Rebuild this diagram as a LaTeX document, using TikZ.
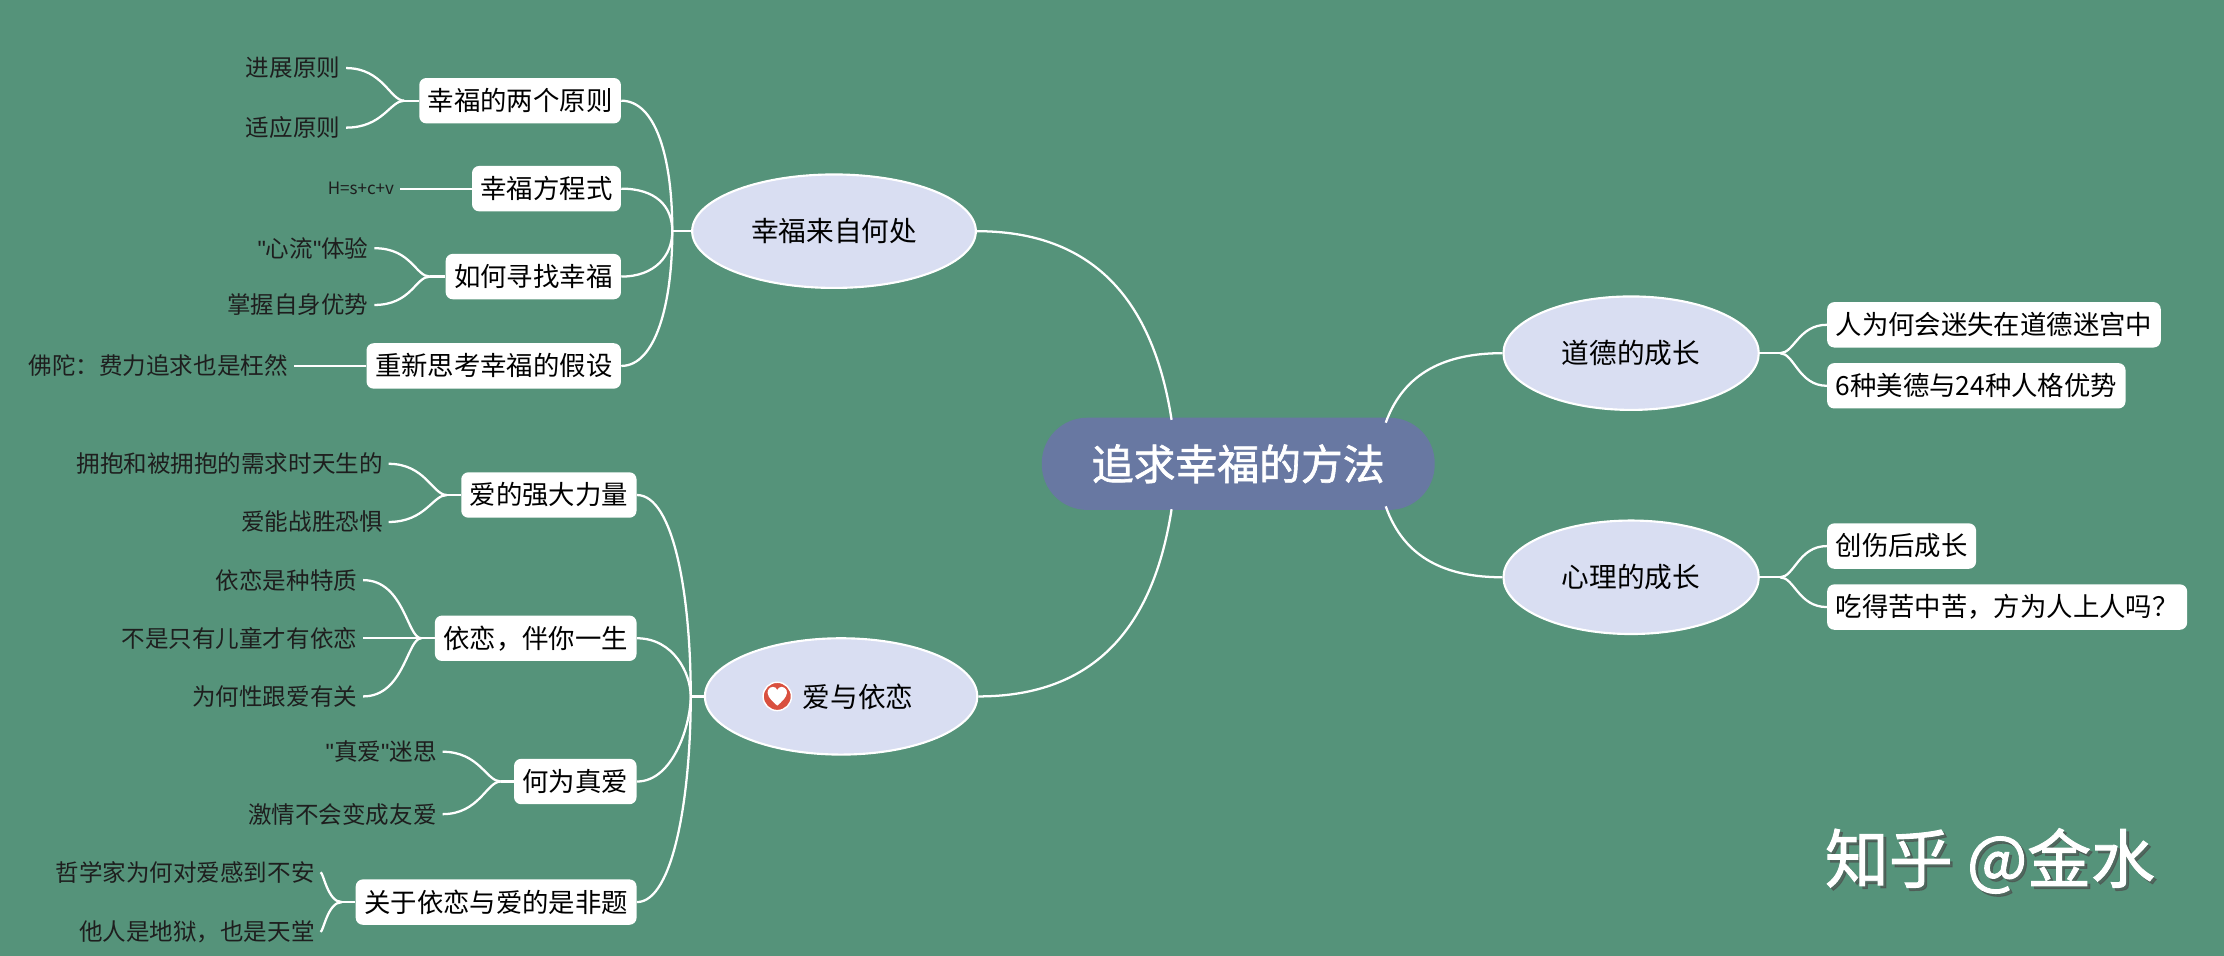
\documentclass[tikz,border=0pt]{standalone}
\usepackage{fontspec}
\setmainfont{Noto Sans CJK SC}
\newfontfamily\cjkb[FakeBold=1.5]{Noto Sans CJK SC}
\newfontfamily\qfont{Liberation Sans}
\newcommand{\sq}{{\qfont\symbol{34}}}
\usetikzlibrary{shapes.geometric}
\definecolor{bg}{HTML}{55937A}
\definecolor{cen}{HTML}{6878A2}
\definecolor{ell}{HTML}{D9DEF2}
\definecolor{leafc}{HTML}{1E1E1E}
\definecolor{heart}{HTML}{D9503F}
\tikzset{
 conn/.style={draw=white,line width=1.6pt},
 topic/.style={ellipse,fill=ell,draw=white,line width=1.5pt,minimum width=200pt,minimum height=80pt,inner sep=0pt,font=\fontsize{19.5}{22}\selectfont,text=black},
 sub/.style={fill=white,rounded corners=5pt,minimum height=32pt,inner xsep=6pt,inner ysep=0pt,anchor=east,font=\fontsize{18.6}{21}\selectfont,text=black},
 subl/.style={sub,anchor=west},
 leaf/.style={anchor=east,inner sep=0pt,font=\fontsize{16.6}{19}\selectfont,text=leafc},
}
\begin{document}
\begin{tikzpicture}[x=1pt,y=-1pt]
\fill[bg] (0,0) rectangle (1568,674);
\useasboundingbox (0,0) rectangle (1568,674);

\node[fill=cen,rounded corners=32pt,minimum width=277pt,minimum height=65pt,text=white,font=\cjkb\fontsize{29.5}{33}\selectfont] (c) at (873,327) {追求幸福的方法};

\node[topic] (t1) at (588,163) {幸福来自何处};
\node[topic,minimum width=192pt,minimum height=82pt] (t2) at (593,491) {\hspace{24pt}爱与依恋};
\node[topic,minimum width=180pt] (t3) at (1150,249) {道德的成长};
\node[topic,minimum width=180pt] (t4) at (1150,407) {心理的成长};

% heart icon
\fill[heart,draw=white,line width=1pt] (548,491) circle (10);
\fill[white] (548,497.5) .. controls (541.5,492) and (540.5,489) .. (541.5,486.5) .. controls (543,483.5) and (547,483.5) .. (548,486.5) .. controls (549,483.5) and (553,483.5) .. (554.5,486.5) .. controls (555.5,489) and (554.5,492) .. (548,497.5) -- cycle;

% center connections
\draw[conn] (826,296) .. controls (812,205) and (765,163) .. (t1.east);
\draw[conn] (826,359) .. controls (812,450) and (765,491) .. (t2.east);
\draw[conn] (977,298) .. controls (990,262) and (1020,249) .. (t3.west);
\draw[conn] (977,357) .. controls (990,394) and (1020,407) .. (t4.west);

% left-top subtopics
\coordinate (h1) at (474,163);
\draw[conn] (t1.west) -- (h1);
\node[sub] (a1) at (438,71) {幸福的两个原则};
\node[sub] (a2) at (438,133) {幸福方程式};
\node[sub] (a3) at (438,195) {如何寻找幸福};
\node[sub] (a4) at (438,258) {重新思考幸福的假设};
\draw[conn] (a1.east) .. controls (462,71) and (474,110) .. (h1);
\draw[conn] (a2.east) .. controls (462,133) and (474,145) .. (h1);
\draw[conn] (a3.east) .. controls (462,195) and (474,180) .. (h1);
\draw[conn] (a4.east) .. controls (462,258) and (474,215) .. (h1);

\node[leaf] (l1) at (240,48) {进展原则};
\node[leaf] (l2) at (240,90) {适应原则};
\node[leaf,font=\fontsize{12}{13}\selectfont] (l3) at (278,133) {H=s+c+v};
\node[leaf] (l4) at (260,175) {\sq 心流\sq 体验};
\node[leaf] (l5) at (260,215) {掌握自身优势};
\node[leaf] (l6) at (203,258) {佛陀：费力追求也是枉然};
\coordinate (g1) at (285,71);
\draw[conn] (a1.west) -- (g1);
\draw[conn] (g1) .. controls (275,71) and (270,48) .. ([xshift=4pt]l1.east);
\draw[conn] (g1) .. controls (275,71) and (270,90) .. ([xshift=4pt]l2.east);
\draw[conn] (a2.west) -- ([xshift=4pt]l3.east);
\coordinate (g3) at (303,195);
\draw[conn] (a3.west) -- (g3);
\draw[conn] (g3) .. controls (293,195) and (290,175) .. ([xshift=4pt]l4.east);
\draw[conn] (g3) .. controls (293,195) and (290,215) .. ([xshift=4pt]l5.east);
\draw[conn] (a4.west) -- ([xshift=4pt]l6.east);

% left-bottom subtopics
\coordinate (h2) at (487,491);
\draw[conn] (t2.west) -- (h2);
\node[sub] (b1) at (449,349) {爱的强大力量};
\node[sub] (b2) at (449,450) {依恋，伴你一生};
\node[sub] (b3) at (449,551) {何为真爱};
\node[sub] (b4) at (449,636) {关于依恋与爱的是非题};
\draw[conn] (b1.east) .. controls (475,349) and (487,420) .. (h2);
\draw[conn] (b2.east) .. controls (475,450) and (487,475) .. (h2);
\draw[conn] (b3.east) .. controls (475,551) and (487,510) .. (h2);
\draw[conn] (b4.east) .. controls (475,636) and (487,560) .. (h2);

\node[leaf] (m1) at (270,327) {拥抱和被拥抱的需求时天生的};
\node[leaf] (m2) at (270,368) {爱能战胜恐惧};
\node[leaf] (m3) at (252,409) {依恋是种特质};
\node[leaf] (m4) at (252,450) {不是只有儿童才有依恋};
\node[leaf] (m5) at (252,491) {为何性跟爱有关};
\node[leaf] (m6) at (308,530) {\sq 真爱\sq 迷思};
\node[leaf] (m7) at (308,574) {激情不会变成友爱};
\node[leaf] (m8) at (222,615) {哲学家为何对爱感到不安};
\node[leaf] (m9) at (222,657) {他人是地狱，也是天堂};
\coordinate (k1) at (315,349);
\draw[conn] (b1.west) -- (k1);
\draw[conn] (k1) .. controls (305,349) and (300,327) .. ([xshift=4pt]m1.east);
\draw[conn] (k1) .. controls (305,349) and (300,368) .. ([xshift=4pt]m2.east);
\coordinate (k2) at (297,450);
\draw[conn] (b2.west) -- ([xshift=4pt]m4.east);
\draw[conn] (k2) .. controls (287,450) and (285,409) .. ([xshift=4pt]m3.east);
\draw[conn] (k2) .. controls (287,450) and (285,491) .. ([xshift=4pt]m5.east);
\coordinate (k3) at (353,551);
\draw[conn] (b3.west) -- (k3);
\draw[conn] (k3) .. controls (343,551) and (338,530) .. ([xshift=4pt]m6.east);
\draw[conn] (k3) .. controls (343,551) and (338,574) .. ([xshift=4pt]m7.east);
\coordinate (k4) at (241,636);
\draw[conn] (b4.west) -- (k4);
\draw[conn] (k4) .. controls (231,636) and (228,615) .. ([xshift=4pt]m8.east);
\draw[conn] (k4) .. controls (231,636) and (228,657) .. ([xshift=4pt]m9.east);

% right subtopics
\coordinate (h3) at (1255,249);
\coordinate (h4) at (1255,407);
\draw[conn] (t3.east) -- (h3);
\draw[conn] (t4.east) -- (h4);
\node[subl] (r1) at (1288,229) {人为何会迷失在道德迷宫中};
\node[subl] (r2) at (1288,272) {6种美德与24种人格优势};
\node[subl] (r3) at (1288,385) {创伤后成长};
\node[subl] (r4) at (1288,428) {吃得苦中苦，方为人上人吗？};
\draw[conn] (h3) .. controls (1265,249) and (1268,229) .. (r1.west);
\draw[conn] (h3) .. controls (1265,249) and (1268,272) .. (r2.west);
\draw[conn] (h4) .. controls (1265,407) and (1268,385) .. (r3.west);
\draw[conn] (h4) .. controls (1265,407) and (1268,428) .. (r4.west);

% watermark
\node[text=black!70,opacity=0.6,font=\cjkb\fontsize{45}{48}\selectfont] at (1405,609) {知乎 @金水};
\node[text=white,font=\cjkb\fontsize{45}{48}\selectfont] (wm) at (1403,607) {知乎 @金水};
\end{tikzpicture}
\end{document}
